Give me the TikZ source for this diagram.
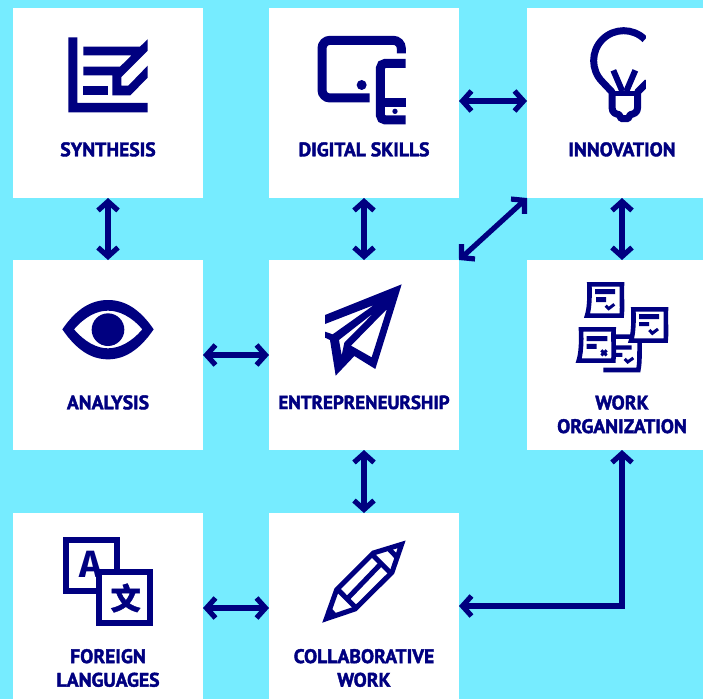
\documentclass[tikz,border=0pt]{standalone}
\usepackage{fontspec}
\setmainfont{PT Sans}[BoldFeatures={FakeBold=2}]
\newfontfamily\cjkfont[FakeBold=1.5]{Noto Sans CJK SC}
\newfontfamily\iconfont{Fira Sans}
\usetikzlibrary{arrows.meta}
\definecolor{navyink}{RGB}{0,0,128}
\definecolor{skybg}{RGB}{118,236,255}
\tikzset{
  card/.style={fill=white,draw=none,minimum size=190pt,inner sep=0pt,outer sep=0pt},
  cardtext/.style={text=navyink,font=\fontsize{19.6}{23.6}\selectfont\bfseries,align=center,inner sep=0pt},
  link/.style={draw=navyink,line width=5.2pt,miter limit=10,
    {Straight Barb[length=9pt,width=20pt,sharp]}-{Straight Barb[length=9pt,width=20pt,sharp]}},
  iconat/.style 2 args={shift={(#1,#2)},x=.3333pt,y=-.3333pt},
  ink/.style={fill=navyink,draw=none},
  inkline/.style={draw=navyink,fill=none,miter limit=4},
}
\newcommand{\noteshape}[2]{%
  \begin{scope}[shift={(#1,#2)}]
    \draw[inkline,fill=white,line width=4.6pt] (43,28) -- (141,28) .. controls (139,60) and (143,90) .. (140,122)
      -- (36,122) .. controls (42,105) and (45,70) .. (43,28) -- cycle;
  \end{scope}}
\begin{document}
\begin{tikzpicture}[x=1pt,y=-1pt]
\useasboundingbox (0,0) rectangle (703,699);
\clip (0,0) rectangle (703,699);
\fill[skybg] (0,0) rectangle (703,699);
% cards
\node[card] (syn) at (108,103) {};
\node[card] (dig) at (364,103) {};
\node[card] (inn) at (622,103) {};
\node[card] (ana) at (108,355) {};
\node[card] (ent) at (364,355) {};
\node[card] (wor) at (622,355) {};
\node[card] (for) at (108,608) {};
\node[card] (col) at (364,608) {};
% labels
\node[cardtext] (tsyn) at (108,149.4) {SYNTHESIS};
\node[cardtext] (tdig) at (364,149.4) {DIGITAL SKILLS};
\node[cardtext] (tinn) at (622,149.4) {INNOVATION};
\node[cardtext] (tana) at (108,402.4) {ANALYSIS};
\node[cardtext,font=\fontsize{19}{23.6}\selectfont\bfseries] (tent) at (364,402.4) {ENTREPRENEURSHIP};
\node[cardtext] (twor) at (622,414.4) {WORK\\ORGANIZATION};
\node[cardtext] (tfor) at (108,668) {FOREIGN\\LANGUAGES};
\node[cardtext] (tcol) at (364,668) {COLLABORATIVE\\WORK};
% connectors
\draw[link] (syn.south) -- (ana.north);
\draw[link] (dig.south) -- (ent.north);
\draw[link] (inn.south) -- (wor.north);
\draw[link] (ana.east) -- (ent.west);
\draw[link] (ent.south) -- (col.north);
\draw[link] (for.east) -- (col.west);
\draw[link] ([yshift=2pt]dig.east) -- ([yshift=2pt]inn.west);
\draw[link] (ent.north east) -- (inn.south west);
\draw[link] (wor.south) |- ([yshift=2pt]col.east);
% synthesis icon
\begin{scope}[iconat={60}{30}]
  \fill[ink] (25,22) -- (52,22) -- (52,219) -- (263,219) -- (263,247) -- (25,247) -- cycle;
  \fill[ink] (70,50) -- (240,50) -- (263,28) -- (263,62) -- (184,141) -- (184,167) -- (205,167) -- (263,107)
    -- (263,143) -- (211,196) -- (157,196) -- (157,136) -- (70,136) -- (70,110) -- (180,110) -- (215,76) -- (70,76) -- cycle;
  \fill[ink] (70,168) rectangle (145,196);
\end{scope}
% digital skills icon
\begin{scope}[iconat={269}{8}]
  \draw[inkline,line width=9pt,rounded corners=8pt] (302,270) -- (159,270) -- (159,97) -- (397,97) -- (397,136);
  \fill[ink] (278,231) circle[radius=15];
  \draw[inkline,line width=9pt,rounded corners=5pt] (410,166) -- (334,166) -- (334,336) -- (410,336);
  \draw[inkline,line width=9pt] (334,283) -- (410,283);
  \fill[ink] (378,310) circle[radius=8];
\end{scope}
% innovation icon
\begin{scope}[iconat={527}{8}]
  \clip (0,0) rectangle (357,400);
  \draw[inkline,line width=7pt,line join=round] (353.6,94.4) arc[start angle=-45,end angle=-225,radius=90] -- (255,252)
     -- (255,298) .. controls (255,316) and (268,318) .. (276,320) -- (283,332) -- (303,332) -- (310,320)
     .. controls (318,318) and (332,316) .. (332,298) -- (332,252) -- (362,222);
  \draw[inkline,line width=5.6pt] (255,256) -- (332,256);
  \draw[inkline,line width=6pt] (259,187) -- (286,250);
  \draw[inkline,line width=6pt] (325,187) -- (298,250);
\end{scope}
% analysis icon
\begin{scope}[iconat={55}{295}]
  \fill[ink,even odd rule] (22,103) .. controls (65,40) and (110,15) .. (159,15) .. controls (208,15) and (253,40) .. (296,103)
     .. controls (253,166) and (208,193) .. (159,193) .. controls (110,193) and (65,166) .. (22,103) -- cycle
     (57,103) .. controls (90,65) and (125,47) .. (159,47) .. controls (193,47) and (230,65) .. (262,103)
     .. controls (230,141) and (193,160) .. (159,160) .. controls (125,160) and (90,141) .. (57,103) -- cycle;
  \fill[ink] (159,104) circle[radius=49];
\end{scope}
% entrepreneurship icon
\begin{scope}[iconat={320}{280}]
  \fill[ink,even odd rule] (245,13) -- (166,267) -- (103,228) -- (47,287) -- (30,180) -- (15,173) -- (15,155) -- (38,163) -- (162,75) -- (15,132) -- (15,105) -- cycle
     (201,87) -- (155,232) -- (93,197) -- cycle
     (163,97) -- (57,180) -- (65,226) -- (73,188) -- cycle;
\end{scope}
% work organization icon
\begin{scope}[iconat={575}{275}]
  \noteshape{0}{0}
  \fill[ink] (60,42) rectangle (120,57) (63,66) rectangle (93,81);
  \draw[inkline,line width=3pt] (92,92) -- (101,101) -- (118,88);
  % back note
  \draw[inkline,line width=4.6pt] (85,285) -- (190,285) .. controls (195,260) and (193,230) .. (194,205) -- (190,185) -- (95,185);
  \fill[ink] (110,211) rectangle (170,224) (110,234) rectangle (142,246);
  \draw[inkline,line width=3pt] (149,252) -- (158,261) -- (175,249);
  \noteshape{-25}{135}
  \fill[ink] (35,183) rectangle (97,198) (35,207) rectangle (65,222);
  \draw[inkline,line width=3pt] (79,226) -- (95,241) (95,226) -- (79,241);
  \noteshape{132}{75}
  \fill[ink] (192,117) rectangle (252,132) (192,141) rectangle (222,153);
  \draw[inkline,line width=3pt] (223,165) -- (232,175) -- (249,162);
\end{scope}
% foreign languages icon
\begin{scope}[iconat={13}{513}]
  \draw[inkline,line width=6pt] (159,82) rectangle (311,234);
  \node[text=navyink,font=\iconfont\bfseries\fontsize{38}{38}\selectfont,inner sep=0pt] (glA) at (233,153) {A};
  \draw[inkline,fill=white,line width=6pt] (258,176) rectangle (410,329);
  \node[text=navyink,font=\cjkfont\bfseries\fontsize{30}{30}\selectfont,inner sep=0pt] (glW) at (338,255) {文};
\end{scope}
% collaborative work icon
\begin{scope}[iconat={269}{513}]
  \draw[inkline,line width=5pt,miter limit=10] (398,94) -- (313,120) -- (203,230) -- (172,317) -- (258,288) -- (369,178) -- cycle;
  \draw[inkline,line width=5pt] (307,122) -- (367,182);
  \draw[inkline,line width=5pt] (205,228) -- (263,287);
  \draw[inkline,line width=5pt] (238,254) -- (333,155);
  \draw[inkline,line width=5pt] (362,110) -- (386,135);
  \draw[inkline,line width=5pt] (178,287) -- (200,310);
\end{scope}
\end{tikzpicture}
\end{document}
